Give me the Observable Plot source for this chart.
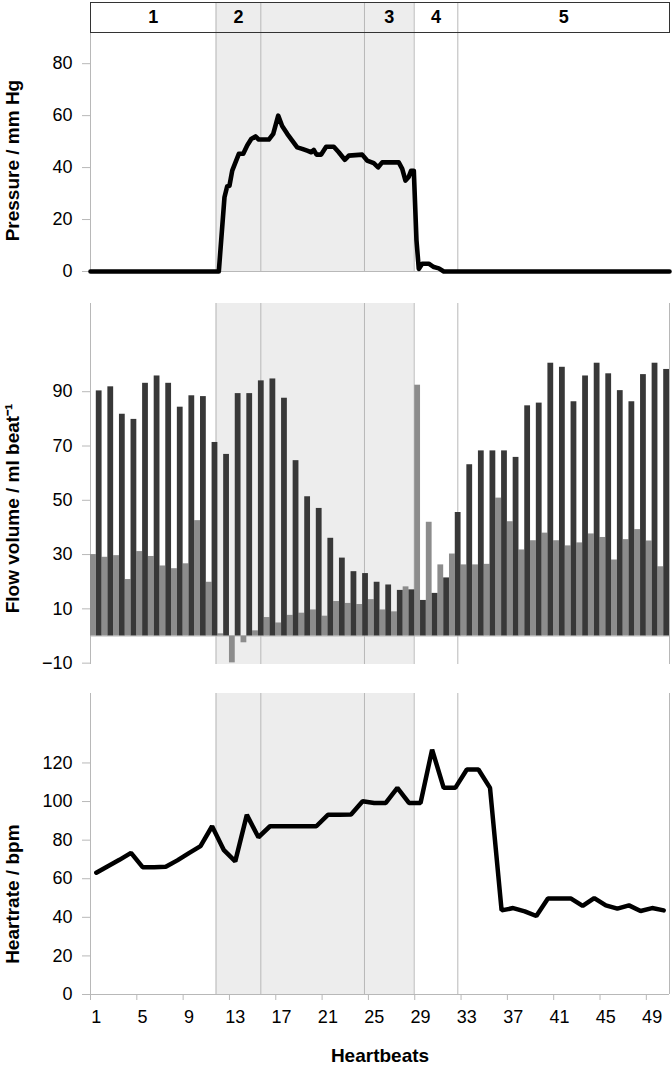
<!DOCTYPE html>
<html><head><meta charset="utf-8">
<script src="https://cdn.jsdelivr.net/npm/d3@7"></script>
<script src="https://cdn.jsdelivr.net/npm/@observablehq/plot@0.6"></script>
<style>
body{margin:0;background:#fff;}
#chart{position:relative;width:672px;height:1069px;}
#chart svg{position:absolute;left:0;display:block;}
</style>
</head><body><div id="chart"></div>
<script>
// ---------- data ----------
const beats = d3.range(1, 51);
const flowDark = [
  90.3, 91.8, 81.7, 79.8, 93.1, 95.8, 93.1, 84.3, 88.5, 88.2,
  71.3, 66.9, 89.3, 89.3, 94.0, 94.7, 87.6, 64.6, 51.3, 47.0,
  36.0, 28.7, 23.7, 23.0, 19.8, 18.8, 16.8, 17.0, 13.1, 15.7,
  21.4, 45.5, 63.1, 68.2, 68.2, 68.2, 65.8, 84.8, 85.8, 100.5,
  99.0, 86.3, 95.8, 100.5, 96.6, 90.4, 86.3, 96.3, 100.5, 98.2];
const flowGrey = [
  30.0, 29.0, 29.6, 20.8, 31.1, 29.3, 25.8, 24.8, 26.6, 42.5,
  19.8, 0.8, -9.9, -2.5, 1.9, 6.8, 4.8, 7.6, 8.4, 9.6,
  7.3, 12.7, 12.0, 11.6, 13.4, 9.6, 8.9, 18.1, 92.4, 41.9,
  26.2, 30.2, 26.2, 26.2, 26.4, 50.8, 42.1, 31.7, 35.1, 37.9,
  35.1, 33.2, 34.3, 37.6, 36.3, 28.0, 35.5, 39.2, 35.0, 25.5];
const heartrate = [
  63.1, 66.5, 69.8, 73.4, 66.0, 66.0, 66.2, 69.5, 73.3, 76.9,
  87.2, 75.0, 69.0, 93.1, 81.5, 87.2, 87.2, 87.2, 87.2, 87.2,
  93.1, 93.1, 93.3, 100.2, 99.3, 99.3, 107.1, 99.3, 99.3, 126.9,
  107.1, 107.1, 116.6, 116.6, 107.1, 43.6, 44.8, 43.1, 40.7, 49.7,
  49.7, 49.7, 45.9, 50.0, 46.2, 44.5, 46.2, 43.3, 44.8, 43.6];
const pressureBeat = [0.5, 11.58, 12.07, 12.30, 12.50, 12.74, 13.02, 13.31, 13.69, 14.03,
  14.38, 14.75, 15.03, 15.90, 16.28, 16.71, 17.05, 17.49, 17.92, 18.35,
  18.78, 19.21, 19.56, 19.78, 20.02, 20.42, 20.85, 21.51, 21.94, 22.46,
  22.81, 23.96, 24.39, 24.96, 25.34, 25.69, 27.12, 27.42, 27.70, 27.99,
  28.19, 28.42, 28.65, 28.85, 29.14, 29.71, 30.15, 30.58, 31.01, 50.5];
const pressureValue = [0, 0, 28.6, 32.7, 33, 38.8, 42, 45.3, 45.3, 48.5,
  51, 52, 50.8, 50.8, 53, 60, 56, 53, 50.4, 47.8,
  47.2, 46.5, 45.9, 46.8, 45, 45, 48, 48, 45.9, 43,
  44.6, 45, 42.7, 41.7, 40.1, 42, 42, 39.5, 35, 36.5,
  38.8, 38.8, 12, 1, 3, 3, 1.7, 1.2, 0, 0];
const phaseBounds = [11.34, 15.21, 24.16, 28.45, 32.22];
const phaseLabels = ["1", "2", "", "3", "4", "5"];
const pressureTicks = [0, 20, 40, 60, 80];
const flowTicks = [-10, 10, 30, 50, 70, 90];
const hrTicks = [0, 20, 40, 60, 80, 100, 120];
const beatLabels = d3.range(1, 50, 4);

// ---------- shared settings ----------
const X0 = 0.5, X1 = 50.5;
const FONT = "'Liberation Sans', Arial, sans-serif";
const GRID = "#b8b8b8";
const SHADE = "#ededed";
const shade = [[phaseBounds[0], phaseBounds[3]]];
const segs = [X0, ...phaseBounds, X1];
const segments = phaseLabels.map((t, i) => ({t, x: (segs[i] + segs[i + 1]) / 2}));
const chart = document.getElementById("chart");
function place(svg, top) { svg.style.top = top + "px"; chart.appendChild(svg); }
const base = {width: 672, marginLeft: 90, marginRight: 3,
  style: {fontFamily: FONT, fontSize: "18px", background: "transparent", color: "#000"}};

function yTitle(text, yv) {
  return Plot.text([text], {text: d => d, frameAnchor: "left", dx: -78, y: () => yv,
    rotate: -90, textAnchor: "middle", lineAnchor: "middle", fontWeight: "bold", fontSize: 19});
}
function yAxis(ticks) {
  return Plot.axisY({ticks, tickSize: 8, tickPadding: 10, stroke: GRID, fontSize: 18, label: null});
}
function bg(d0, d1) {
  return [
    Plot.rect(shade, {x1: d => d[0], x2: d => d[1], y1: () => d0, y2: () => d1, fill: SHADE}),
    Plot.ruleX(phaseBounds, {stroke: GRID, strokeWidth: 1}),
    Plot.ruleX([X0], {stroke: GRID})
  ];
}

// ---------- pressure ----------
const pDom = [0, 92];
const pressure = Plot.plot({...base, height: 250, marginTop: 0, marginBottom: 11,
  x: {domain: [X0, X1], axis: null},
  y: {domain: pDom},
  marks: [
    ...bg(pDom[0], pDom[1]),
    Plot.ruleY([0], {stroke: GRID}),
    yAxis(pressureTicks),
    Plot.line(pressureBeat, {x: d => d, y: (d, i) => pressureValue[i], stroke: "#000", strokeWidth: 4.6, strokeLinejoin: "round"}),
    yTitle("Pressure / mm Hg", 42.7)
  ]});
place(pressure, 32);

// ---------- flow ----------
const fDom = [-10.5, 122.5];
const flow = Plot.plot({...base, height: 390, marginTop: 13, marginBottom: 16,
  x: {domain: [X0, X1], axis: null},
  y: {domain: fDom},
  marks: [
    ...bg(fDom[0], fDom[1]),
    Plot.ruleX([X1], {stroke: GRID}),
    Plot.ruleY([0], {stroke: GRID}),
    yAxis(flowTicks),
    Plot.rectY(beats, {x1: d => d - 0.5, x2: d => d, y1: 0, y2: (d, i) => flowGrey[i], fill: "#8c8c8c"}),
    Plot.rectY(beats, {x1: d => d, x2: d => d + 0.5, y1: 0, y2: (d, i) => flowDark[i], fill: "#383838"}),
    yTitle("Flow volume / ml beat⁻¹", 47)
  ]});
place(flow, 290);

// ---------- heart rate ----------
const hDom = [0, 156];
const hr = Plot.plot({...base, height: 389, marginTop: 13, marginBottom: 75,
  x: {domain: [X0, X1]},
  y: {domain: hDom},
  marks: [
    ...bg(hDom[0], hDom[1]),
    Plot.ruleX([X1], {stroke: GRID}),
    Plot.ruleY([0], {stroke: GRID}),
    yAxis(hrTicks),
    Plot.axisX({ticks: beatLabels.map(b => b - 0.5), tickFormat: () => "", tickSize: 6, stroke: GRID, label: null}),
    Plot.axisX({ticks: beatLabels, tickSize: 0, tickPadding: 16, fontSize: 18, label: null}),
    Plot.line(beats, {x: d => d, y: (d, i) => heartrate[i], stroke: "#000", strokeWidth: 4.5, strokeLinejoin: "miter"}),
    yTitle("Heartrate / bpm", 52),
    Plot.text(["Heartbeats"], {text: d => d, frameAnchor: "bottom", dy: 61, fontWeight: "bold", fontSize: 19, lineAnchor: "middle"})
  ]});
place(hr, 680);

// ---------- phase header ----------
const header = Plot.plot({...base, height: 33, marginTop: 2, marginBottom: 1,
  x: {domain: [X0, X1], axis: null},
  y: {domain: [0, 1], axis: null},
  marks: [
    Plot.rect(shade, {x1: d => d[0], x2: d => d[1], y1: 0, y2: 1, fill: SHADE}),
    Plot.ruleX(phaseBounds, {stroke: GRID}),
    Plot.frame({stroke: "#333"}),
    Plot.text(segments, {x: "x", y: () => 0.5, text: "t", fontWeight: "bold", fontSize: 18, lineAnchor: "middle"})
  ]});
place(header, 0);
</script>
</body></html>
